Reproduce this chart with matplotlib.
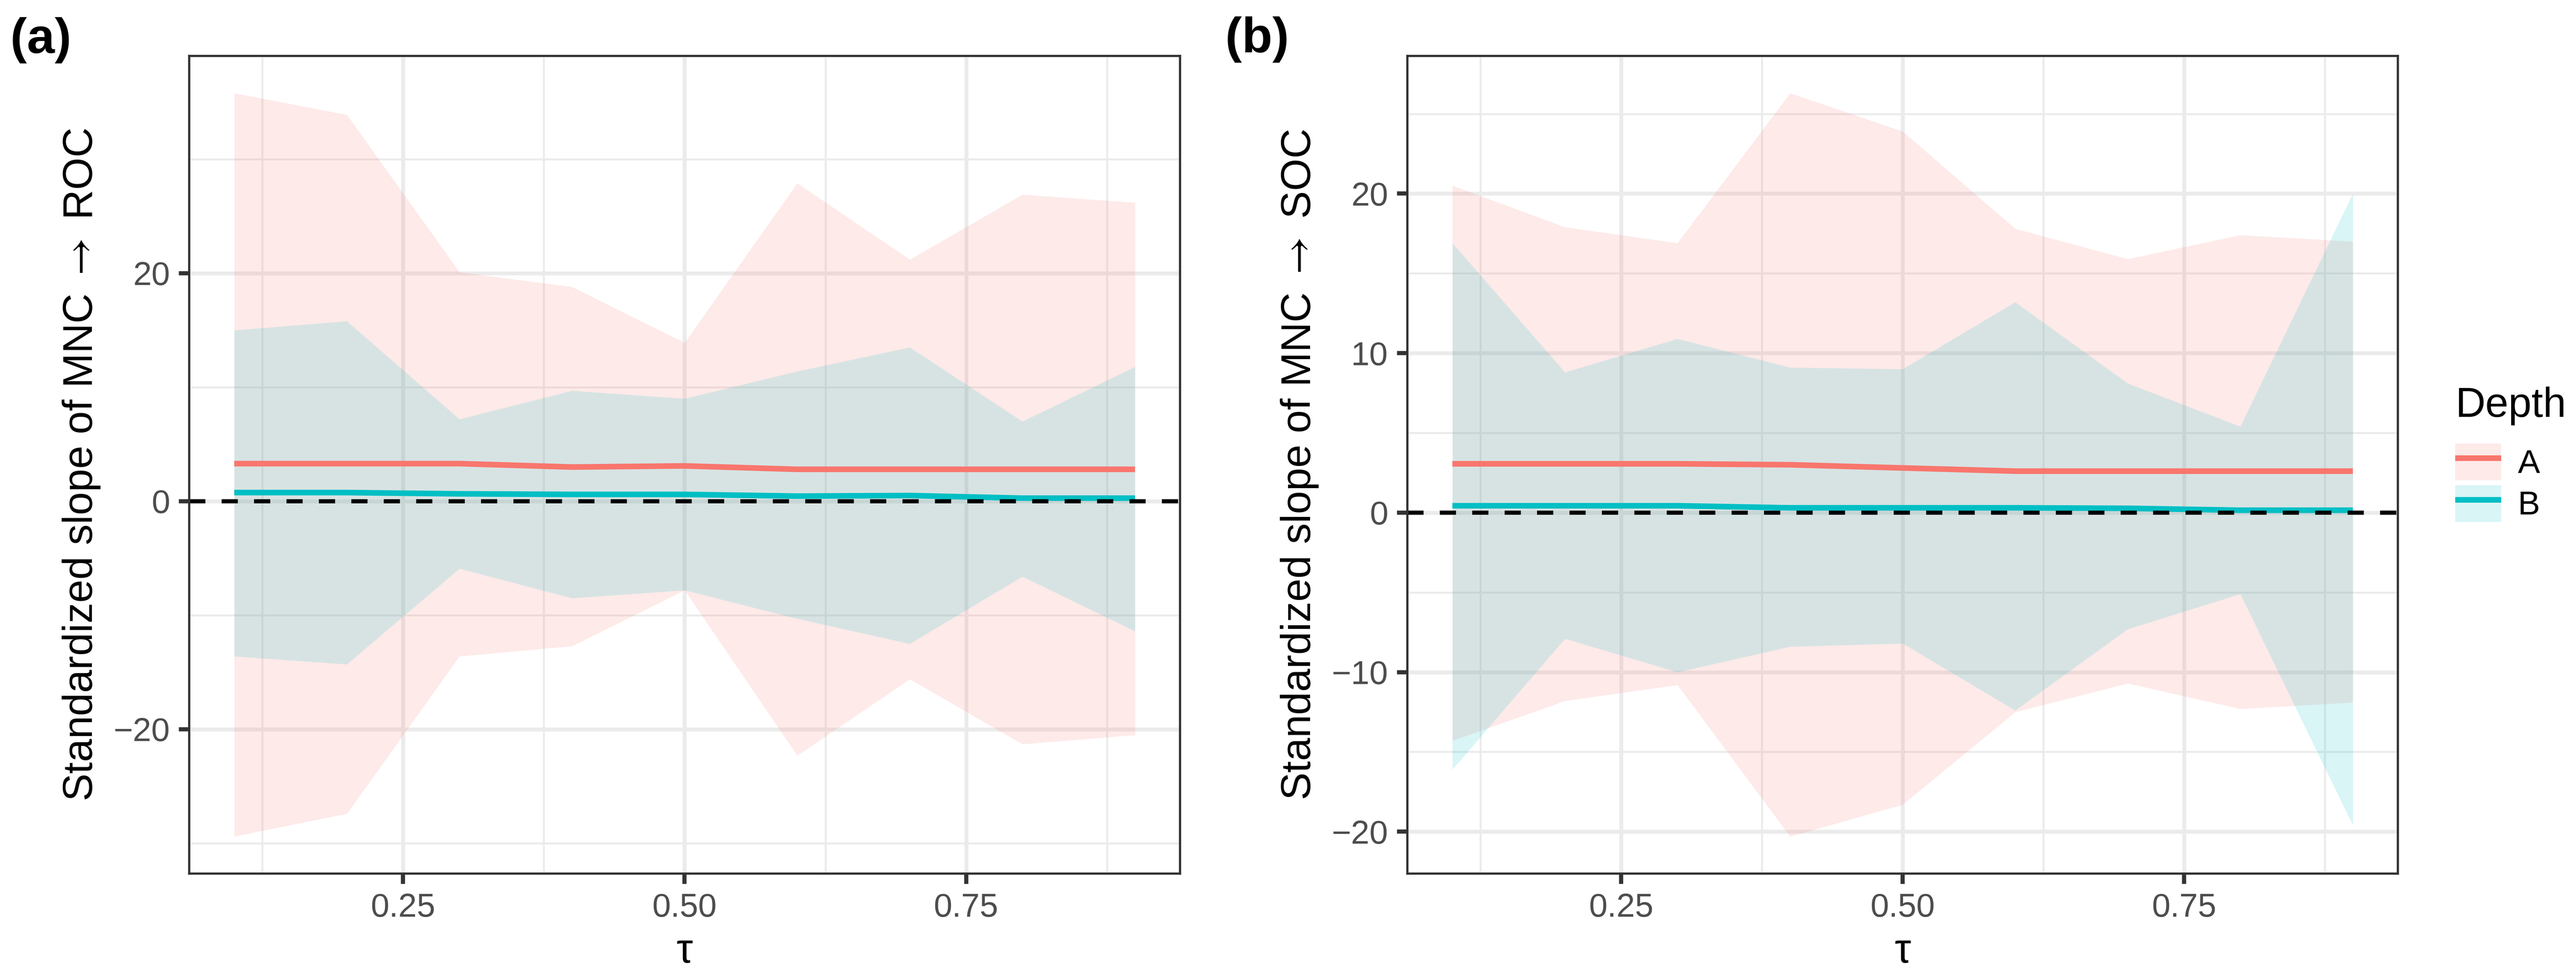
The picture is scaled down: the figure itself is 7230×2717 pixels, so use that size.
import matplotlib
matplotlib.use("Agg")
import matplotlib.pyplot as plt
from matplotlib.lines import Line2D
from matplotlib.patches import Patch

plt.rcParams['font.family'] = ['Liberation Sans', 'DejaVu Sans']
plt.rcParams['mathtext.fontset'] = 'stix'

# output size (px) and resolution
W, H, DPI = 7231, 2717, 600

# quantile levels
tau = [0.1, 0.2, 0.3, 0.4, 0.5, 0.6, 0.7, 0.8, 0.9]
depths = ['A', 'B']
colors = {'A': '#F8766D', 'B': '#00BFC4'}

# panel (a): MNC -> ROC, slope with lower / upper bounds
roc_a_mid = [3.3, 3.3, 3.3, 3.0, 3.1, 2.8, 2.8, 2.8, 2.8]
roc_a_lo = [-29.4, -27.4, -13.6, -12.7, -7.8, -22.3, -15.6, -21.3, -20.5]
roc_a_hi = [35.8, 33.9, 20.1, 18.8, 13.9, 27.9, 21.2, 26.9, 26.2]
roc_b_mid = [0.76, 0.76, 0.65, 0.6, 0.6, 0.45, 0.5, 0.27, 0.27]
roc_b_lo = [-13.6, -14.3, -5.9, -8.5, -7.8, -10.3, -12.5, -6.6, -11.4]
roc_b_hi = [15.0, 15.8, 7.2, 9.7, 9.0, 11.4, 13.5, 7.0, 11.8]

# panel (b): MNC -> SOC
soc_a_mid = [3.06, 3.06, 3.06, 3.0, 2.8, 2.6, 2.6, 2.6, 2.6]
soc_a_lo = [-14.3, -11.8, -10.8, -20.3, -18.3, -12.5, -10.7, -12.3, -11.9]
soc_a_hi = [20.5, 17.9, 16.9, 26.3, 23.9, 17.8, 15.9, 17.4, 17.0]
soc_b_mid = [0.43, 0.43, 0.43, 0.3, 0.3, 0.3, 0.27, 0.15, 0.15]
soc_b_lo = [-16.1, -7.9, -10.0, -8.4, -8.2, -12.4, -7.3, -5.1, -19.6]
soc_b_hi = [16.9, 8.8, 10.9, 9.1, 9.0, 13.2, 8.1, 5.4, 20.0]

x_major = [0.25, 0.50, 0.75]
x_labels = ['0.25', '0.50', '0.75']
x_minor = [0.125, 0.375, 0.625, 0.875]


def px_axes(left, top, right, bottom):
    return [left / W, 1 - bottom / H, (right - left) / W, (bottom - top) / H]


def draw_panel(ax, series, ylabel, y_major, y_minor):
    lows = []
    highs = []
    for d, (mid, lo, hi) in zip(depths, series):
        ax.fill_between(tau, lo, hi, color=colors[d], alpha=0.15, lw=0, zorder=1)
        lows += lo
        highs += hi
    for d, (mid, lo, hi) in zip(depths, series):
        ax.plot(tau, mid, color=colors[d], lw=1.9, solid_capstyle='butt', zorder=2)
    ax.axhline(0, color='black', lw=1.4, ls=(0, (3.9, 3.9)), zorder=3)

    # ggplot-like 5% expansion
    ymin, ymax = min(lows), max(highs)
    pad = 0.05 * (ymax - ymin)
    ax.set_ylim(ymin - pad, ymax + pad)
    ax.set_xlim(0.1 - 0.04, 0.9 + 0.04)

    ax.set_xticks(x_major, labels=x_labels)
    ax.set_xticks(x_minor, minor=True)
    ax.set_yticks(y_major)
    ax.set_yticks(y_minor, minor=True)
    ax.grid(which='major', color='#EBEBEB', lw=1.3)
    ax.grid(which='minor', color='#EBEBEB', lw=0.65)
    ax.set_axisbelow(True)
    for s in ax.spines.values():
        s.set_color('#333333')
        s.set_linewidth(0.75)
        s.set_zorder(4)
    ax.tick_params(which='major', length=3.5, width=1.4, color='#333333',
                   labelcolor='#4D4D4D', labelsize=11.2, pad=3)
    ax.tick_params(which='minor', length=0)
    ax.set_xlabel('τ', fontsize=14, labelpad=3)
    ax.set_ylabel(ylabel, fontsize=14, labelpad=4)


fig = plt.figure(figsize=(W / DPI, H / DPI), dpi=DPI)
ax_a = fig.add_axes(px_axes(531, 157, 3312, 2452))
ax_b = fig.add_axes(px_axes(3950, 157, 6730, 2452))

draw_panel(ax_a,
           [(roc_a_mid, roc_a_lo, roc_a_hi), (roc_b_mid, roc_b_lo, roc_b_hi)],
           r'Standardized slope of MNC $\rightarrow$ ROC', [-20, 0, 20], [-30, -10, 10, 30])
draw_panel(ax_b,
           [(soc_a_mid, soc_a_lo, soc_a_hi), (soc_b_mid, soc_b_lo, soc_b_hi)],
           r'Standardized slope of MNC $\rightarrow$ SOC', [-20, -10, 0, 10, 20],
           [-15, -5, 5, 15, 25])

# panel tags
fig.text(29 / W, 1 - 48 / H, '(a)', fontsize=16.8, fontweight='bold', va='top', ha='left')
fig.text(3439 / W, 1 - 46 / H, '(b)', fontsize=16.8, fontweight='bold', va='top', ha='left')

# legend
fs = 11.2
em = fs * DPI / 72
handles = [(Patch(facecolor=colors[d], alpha=0.15, lw=0),
            Line2D([], [], color=colors[d], lw=1.9, solid_capstyle='butt')) for d in depths]
fig.text(6891 / W, 1 - 1170 / H, 'Depth', fontsize=14, va='baseline', ha='left')
fig.legend(handles, depths, loc='upper left', bbox_to_anchor=(6891 / W, 1 - 1245 / H),
           frameon=False, borderpad=0, borderaxespad=0, fontsize=fs,
           handlelength=129 / em, handleheight=123 / em, labelspacing=14 / em,
           handletextpad=0.5)

fig.savefig('out.png', dpi=DPI)
